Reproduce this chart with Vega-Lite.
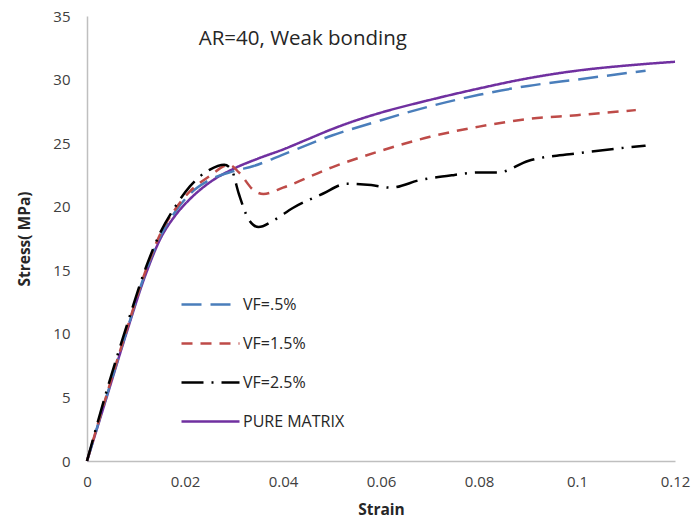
{
  "$schema": "https://vega.github.io/schema/vega-lite/v6.json",
  "width": 588,
  "height": 445,
  "autosize": {"type": "none"},
  "padding": {"left": 87, "top": 16, "right": 20, "bottom": 60},
  "background": "white",
  "datasets": {
    "curves": [
      {"s": "PURE MATRIX", "strain": 0, "stress": 0},
      {"s": "PURE MATRIX", "strain": 0.004, "stress": 5.0},
      {"s": "PURE MATRIX", "strain": 0.008, "stress": 10.0},
      {"s": "PURE MATRIX", "strain": 0.012, "stress": 14.7},
      {"s": "PURE MATRIX", "strain": 0.015, "stress": 17.5},
      {"s": "PURE MATRIX", "strain": 0.018, "stress": 19.3},
      {"s": "PURE MATRIX", "strain": 0.021, "stress": 20.6},
      {"s": "PURE MATRIX", "strain": 0.025, "stress": 21.9},
      {"s": "PURE MATRIX", "strain": 0.03, "stress": 23.0},
      {"s": "PURE MATRIX", "strain": 0.035, "stress": 23.8},
      {"s": "PURE MATRIX", "strain": 0.04, "stress": 24.5},
      {"s": "PURE MATRIX", "strain": 0.045, "stress": 25.3},
      {"s": "PURE MATRIX", "strain": 0.05, "stress": 26.1},
      {"s": "PURE MATRIX", "strain": 0.055, "stress": 26.8},
      {"s": "PURE MATRIX", "strain": 0.06, "stress": 27.4},
      {"s": "PURE MATRIX", "strain": 0.07, "stress": 28.4},
      {"s": "PURE MATRIX", "strain": 0.08, "stress": 29.3},
      {"s": "PURE MATRIX", "strain": 0.09, "stress": 30.1},
      {"s": "PURE MATRIX", "strain": 0.1, "stress": 30.7},
      {"s": "PURE MATRIX", "strain": 0.11, "stress": 31.1},
      {"s": "PURE MATRIX", "strain": 0.12, "stress": 31.4},

      {"s": "VF=.5%", "strain": 0, "stress": 0},
      {"s": "VF=.5%", "strain": 0.004, "stress": 5.1},
      {"s": "VF=.5%", "strain": 0.008, "stress": 10.1},
      {"s": "VF=.5%", "strain": 0.012, "stress": 14.9},
      {"s": "VF=.5%", "strain": 0.015, "stress": 17.7},
      {"s": "VF=.5%", "strain": 0.018, "stress": 19.6},
      {"s": "VF=.5%", "strain": 0.021, "stress": 21.0},
      {"s": "VF=.5%", "strain": 0.025, "stress": 22.1},
      {"s": "VF=.5%", "strain": 0.03, "stress": 22.8},
      {"s": "VF=.5%", "strain": 0.034, "stress": 23.2},
      {"s": "VF=.5%", "strain": 0.04, "stress": 24.1},
      {"s": "VF=.5%", "strain": 0.05, "stress": 25.6},
      {"s": "VF=.5%", "strain": 0.06, "stress": 26.8},
      {"s": "VF=.5%", "strain": 0.07, "stress": 27.9},
      {"s": "VF=.5%", "strain": 0.08, "stress": 28.8},
      {"s": "VF=.5%", "strain": 0.09, "stress": 29.5},
      {"s": "VF=.5%", "strain": 0.1, "stress": 30.0},
      {"s": "VF=.5%", "strain": 0.114, "stress": 30.7},

      {"s": "VF=1.5%", "strain": 0, "stress": 0},
      {"s": "VF=1.5%", "strain": 0.004, "stress": 5.2},
      {"s": "VF=1.5%", "strain": 0.008, "stress": 10.2},
      {"s": "VF=1.5%", "strain": 0.012, "stress": 15.0},
      {"s": "VF=1.5%", "strain": 0.015, "stress": 17.9},
      {"s": "VF=1.5%", "strain": 0.018, "stress": 19.8},
      {"s": "VF=1.5%", "strain": 0.021, "stress": 21.2},
      {"s": "VF=1.5%", "strain": 0.025, "stress": 22.4},
      {"s": "VF=1.5%", "strain": 0.029, "stress": 23.3},
      {"s": "VF=1.5%", "strain": 0.031, "stress": 22.7},
      {"s": "VF=1.5%", "strain": 0.034, "stress": 21.3},
      {"s": "VF=1.5%", "strain": 0.036, "stress": 21.0},
      {"s": "VF=1.5%", "strain": 0.04, "stress": 21.5},
      {"s": "VF=1.5%", "strain": 0.05, "stress": 23.1},
      {"s": "VF=1.5%", "strain": 0.06, "stress": 24.4},
      {"s": "VF=1.5%", "strain": 0.07, "stress": 25.5},
      {"s": "VF=1.5%", "strain": 0.08, "stress": 26.3},
      {"s": "VF=1.5%", "strain": 0.09, "stress": 26.9},
      {"s": "VF=1.5%", "strain": 0.1, "stress": 27.2},
      {"s": "VF=1.5%", "strain": 0.112, "stress": 27.6},

      {"s": "VF=2.5%", "strain": 0, "stress": 0},
      {"s": "VF=2.5%", "strain": 0.004, "stress": 5.5},
      {"s": "VF=2.5%", "strain": 0.008, "stress": 10.5},
      {"s": "VF=2.5%", "strain": 0.012, "stress": 15.2},
      {"s": "VF=2.5%", "strain": 0.015, "stress": 18.0},
      {"s": "VF=2.5%", "strain": 0.018, "stress": 20.0},
      {"s": "VF=2.5%", "strain": 0.021, "stress": 21.6},
      {"s": "VF=2.5%", "strain": 0.025, "stress": 22.9},
      {"s": "VF=2.5%", "strain": 0.028, "stress": 23.3},
      {"s": "VF=2.5%", "strain": 0.0295, "stress": 22.9},
      {"s": "VF=2.5%", "strain": 0.031, "stress": 21.0},
      {"s": "VF=2.5%", "strain": 0.033, "stress": 19.0},
      {"s": "VF=2.5%", "strain": 0.035, "stress": 18.4},
      {"s": "VF=2.5%", "strain": 0.038, "stress": 18.9},
      {"s": "VF=2.5%", "strain": 0.042, "stress": 19.9},
      {"s": "VF=2.5%", "strain": 0.048, "stress": 21.0},
      {"s": "VF=2.5%", "strain": 0.053, "stress": 21.8},
      {"s": "VF=2.5%", "strain": 0.058, "stress": 21.7},
      {"s": "VF=2.5%", "strain": 0.062, "stress": 21.5},
      {"s": "VF=2.5%", "strain": 0.068, "stress": 22.1},
      {"s": "VF=2.5%", "strain": 0.075, "stress": 22.5},
      {"s": "VF=2.5%", "strain": 0.08, "stress": 22.7},
      {"s": "VF=2.5%", "strain": 0.084, "stress": 22.7},
      {"s": "VF=2.5%", "strain": 0.09, "stress": 23.6},
      {"s": "VF=2.5%", "strain": 0.1, "stress": 24.2},
      {"s": "VF=2.5%", "strain": 0.114, "stress": 24.8}
    ]
  },
  "layer": [
    {
      "data": {"name": "curves"},
      "mark": {"type": "line", "strokeWidth": 2.5, "interpolate": "monotone"},
      "encoding": {
        "x": {"field": "strain", "type": "quantitative", "scale": {"domain": [0, 0.12], "nice": false}, "axis": {"title": "Strain", "values": [0, 0.02, 0.04, 0.06, 0.08, 0.1, 0.12], "format": "~g", "labelPadding": 13, "titlePadding": 13, "labelFlush": false}},
        "y": {"field": "stress", "type": "quantitative", "scale": {"domain": [0, 35], "nice": false}, "axis": {"title": "Stress( MPa)", "values": [0, 5, 10, 15, 20, 25, 30, 35], "labelPadding": 17, "titlePadding": 20, "labelFlush": false}},
        "color": {"field": "s", "type": "nominal", "scale": {"domain": ["VF=.5%", "VF=1.5%", "VF=2.5%", "PURE MATRIX"], "range": ["#4A7EBB", "#BE4B48", "#000000", "#7030A0"]}, "legend": {"title": null}},
        "strokeDash": {"field": "s", "type": "nominal", "scale": {"domain": ["VF=.5%", "VF=1.5%", "VF=2.5%", "PURE MATRIX"], "range": [[20, 9], [11, 8], [22, 8, 2, 8], [1, 0]]}, "legend": {"title": null}},
        "order": {"field": "strain", "type": "quantitative"}
      }
    },
    {
      "data": {"values": [{}]},
      "mark": {"type": "text", "font": "Open Sans", "fontSize": 20.5, "color": "#262626", "align": "left", "baseline": "middle"},
      "encoding": {
        "x": {"datum": 0.0228},
        "y": {"datum": 33.2},
        "text": {"value": "AR=40, Weak bonding"}
      }
    }
  ],
  "config": {
    "view": {"stroke": null},
    "font": "Open Sans",
    "axis": {"grid": false, "ticks": false, "domainColor": "#BFBFBF", "domainWidth": 1.5, "labelFont": "Open Sans", "labelFontSize": 15, "labelColor": "#404040", "titleFont": "Open Sans", "titleFontSize": 15.5, "titleFontWeight": "bold", "titleColor": "#262626"},
    "legend": {"orient": "none", "legendX": 93, "legendY": 258, "symbolType": "stroke", "symbolSize": 3364, "symbolStrokeWidth": 2.5, "labelFont": "Open Sans", "labelFontSize": 16, "labelColor": "#262626", "rowPadding": 0, "labelOffset": 2, "padding": 0}
  }
}
